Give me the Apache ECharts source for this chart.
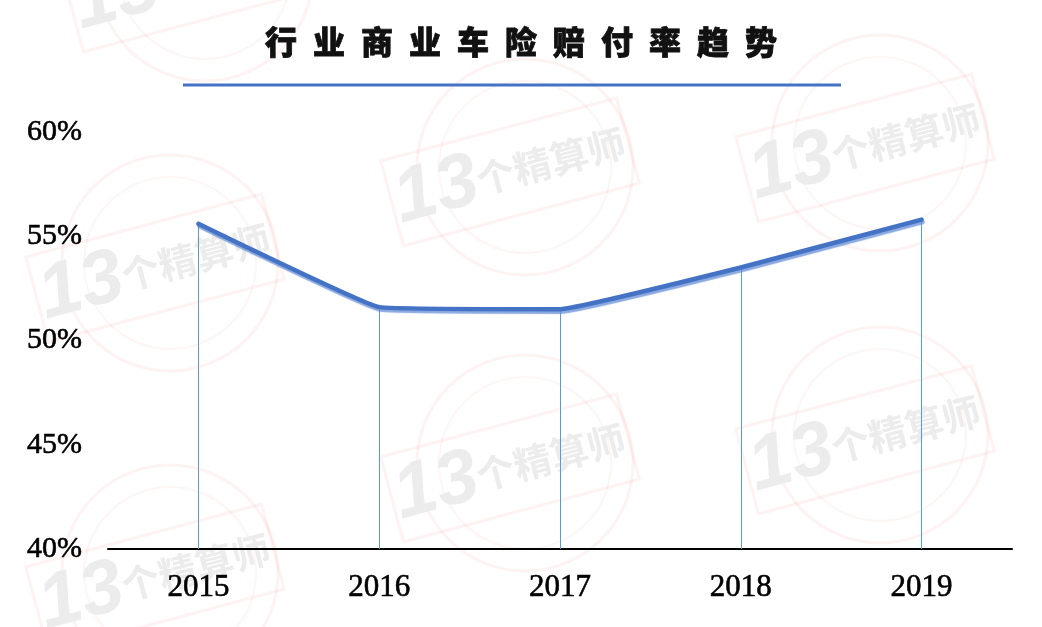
<!DOCTYPE html>
<html>
<head>
<meta charset="utf-8">
<script src="https://cdn.jsdelivr.net/npm/echarts@6/dist/echarts.min.js"></script>
<style>
html,body{margin:0;padding:0;background:#fff;}
#chart{width:1042px;height:627px;}
</style>
</head>
<body>
<div id="chart"></div>
<script>
const titleText = '行业商业车险赔付率趋势';
const categories = ['2015', '2016', '2017', '2018', '2019'];
const lossRatio = [55.6, 51.6, 51.5, 53.5, 55.8];
const yMin = 40, yMax = 60, yInterval = 5;

const chart = echarts.init(document.getElementById('chart'));

// watermark decorations
const wmCenters = [[155, 268], [510, 172], [865, 148], [155, 578], [510, 468], [865, 440], [190, -22]];
const wmGraphics = [];
wmCenters.forEach(function (c) {
  wmGraphics.push({
    type: 'circle', x: c[0] + 15, y: c[1] - 5, silent: true, z: -10,
    shape: { r: 108 },
    style: { fill: 'none', stroke: 'rgba(235,120,110,0.09)', lineWidth: 3 }
  });
  wmGraphics.push({
    type: 'circle', x: c[0] + 15, y: c[1] - 5, silent: true, z: -10,
    shape: { r: 86 },
    style: { fill: 'none', stroke: 'rgba(235,120,110,0.07)', lineWidth: 2 }
  });
  wmGraphics.push({
    type: 'rect', x: c[0], y: c[1], rotation: 0.26, silent: true, z: -10,
    shape: { x: -122, y: -44, width: 244, height: 88 },
    style: { fill: 'none', stroke: 'rgba(235,120,110,0.09)', lineWidth: 3 }
  });
  wmGraphics.push({
    type: 'text', x: c[0], y: c[1], rotation: 0.26, silent: true, z: -9,
    style: {
      text: '{a|13}{b|个精算师}',
      align: 'center', verticalAlign: 'middle',
      rich: {
        a: { fontSize: 76, fontWeight: 'bold', fontStyle: 'italic', fontFamily: 'Liberation Sans', fill: '#ececec', color: '#ececec' },
        b: { fontSize: 38, fontWeight: 'bold', fontFamily: 'Noto Sans CJK SC', fill: '#ececec', color: '#ececec' }
      }
    }
  });
});

const dropLines = categories.map(function (cat, i) {
  return [{ coord: [cat, lossRatio[i]] }, { coord: [cat, yMin] }];
});

chart.setOption({
  backgroundColor: '#ffffff',
  animation: false,
  title: {
    text: titleText.split('').join('\u2002'),
    left: 516, top: 21, textAlign: 'center',
    textStyle: { fontFamily: 'Noto Sans CJK SC', fontSize: 32, fontWeight: 900, color: '#111', textBorderColor: '#111', textBorderWidth: 0.8 }
  },
  graphic: wmGraphics.concat([
    {
      type: 'line', silent: true,
      shape: { x1: 183, y1: 85, x2: 841, y2: 85 },
      style: { stroke: '#4472C4', lineWidth: 3 }
    }
  ]),
  grid: { left: 108, right: 30, top: 132, bottom: 78, containLabel: false },
  xAxis: {
    type: 'category',
    data: categories,
    boundaryGap: true,
    axisLine: { lineStyle: { color: '#000', width: 2 } },
    axisTick: { show: false },
    axisLabel: { fontFamily: 'Liberation Serif', fontSize: 31, color: '#000', margin: 23, textBorderColor: '#000', textBorderWidth: 0.6 }
  },
  yAxis: {
    type: 'value',
    min: yMin, max: yMax, interval: yInterval,
    axisLine: { show: false },
    axisTick: { show: false },
    splitLine: { show: false },
    axisLabel: { formatter: '{value}%', fontFamily: 'Liberation Serif', fontSize: 30, color: '#000', margin: 26, textBorderColor: '#000', textBorderWidth: 0.6 }
  },
  series: [{
    type: 'line',
    data: lossRatio,
    symbol: 'none',
    smooth: 0.08,
    lineStyle: {
      color: '#4472C4', width: 4.5, cap: 'round', join: 'round',
      shadowColor: 'rgba(100,140,215,0.75)', shadowBlur: 1, shadowOffsetY: 2.5, shadowOffsetX: 1
    },
    z: 3,
    markLine: {
      silent: true,
      symbol: ['none', 'none'],
      label: { show: false },
      lineStyle: { color: '#5B9BD5', width: 1, type: 'solid' },
      data: dropLines,
      z: 2
    }
  }]
});
</script>
</body>
</html>
